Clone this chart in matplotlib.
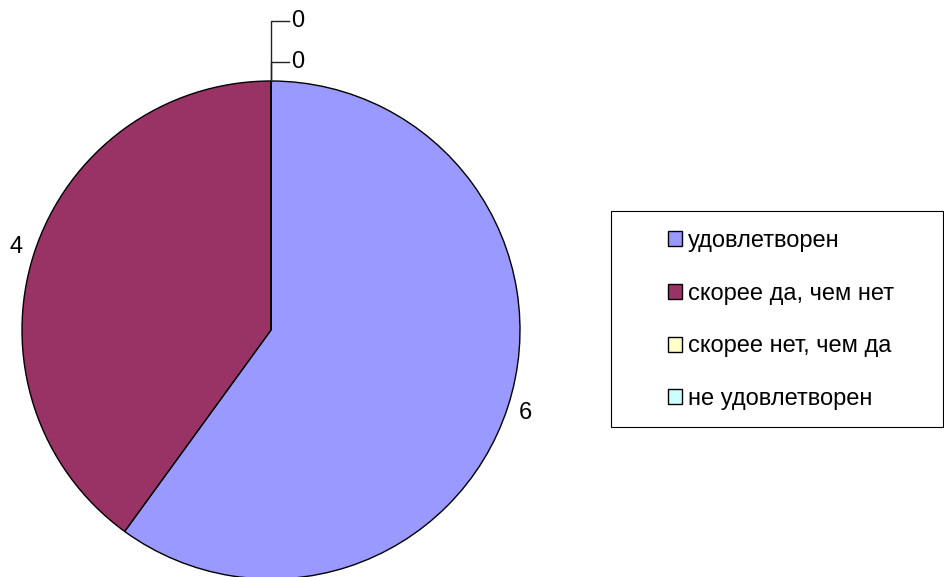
import numpy as np
import matplotlib.pyplot as plt
from matplotlib.patches import Rectangle

categories = ['удовлетворен', 'скорее да, чем нет', 'скорее нет, чем да', 'не удовлетворен']
values = [6, 4, 0, 0]
colors = ['#9999FF', '#993366', '#FFFFCC', '#CCFFFF']

W, H = 945, 577
plt.rcParams['font.family'] = ['Liberation Sans', 'DejaVu Sans']

fig = plt.figure(figsize=(W / 100, H / 100), dpi=100)
ax = fig.add_axes([0, 0, 1, 1])
ax.set_xlim(0, W)
ax.set_ylim(0, H)
ax.set_aspect('equal')
ax.axis('off')

cx, cy, r = 271, H - 330, 249
wedges, _ = ax.pie(values, colors=colors, startangle=90, counterclock=False,
                   center=(cx, cy), radius=r, frame=True,
                   wedgeprops=dict(edgecolor='black', linewidth=1.0))
ax.set_xlim(0, W)
ax.set_ylim(0, H)
ax.axis('off')

# value labels
fs = 17
ang0 = 90.0
total = sum(values)
zero_y = [H - 62, H - 21]
zi = 0
for v in values:
    sweep = 360.0 * v / total
    mid = np.deg2rad(ang0 - sweep / 2)
    if v > 0:
        d = 1.075 * r
        ax.text(cx + d * np.cos(mid), cy + d * np.sin(mid), str(v),
                ha='center', va='center', fontsize=fs)
    else:
        px, py = cx + r * np.cos(mid), cy + r * np.sin(mid)
        ly = zero_y[zi]
        ax.plot([px, px, px + 18], [py, ly, ly], color='#222222', lw=1.0)
        ax.text(px + 20, ly, str(v), ha='left', va='center', fontsize=fs)
        zi += 1
    ang0 -= sweep

# legend
ax.add_patch(Rectangle((611, H - 427), 332, 216, facecolor='white',
                       edgecolor='black', lw=0.8, zorder=3))
leg = ax.legend(wedges, categories, loc='center left',
                bbox_to_anchor=(668, H - 320), bbox_transform=ax.transData,
                frameon=False, fontsize=fs, handlelength=0.6, handleheight=0.6,
                handletextpad=0.25, labelspacing=1.3, borderpad=0, borderaxespad=0)
leg.set_zorder(4)

fig.savefig('out.png', dpi=100)
